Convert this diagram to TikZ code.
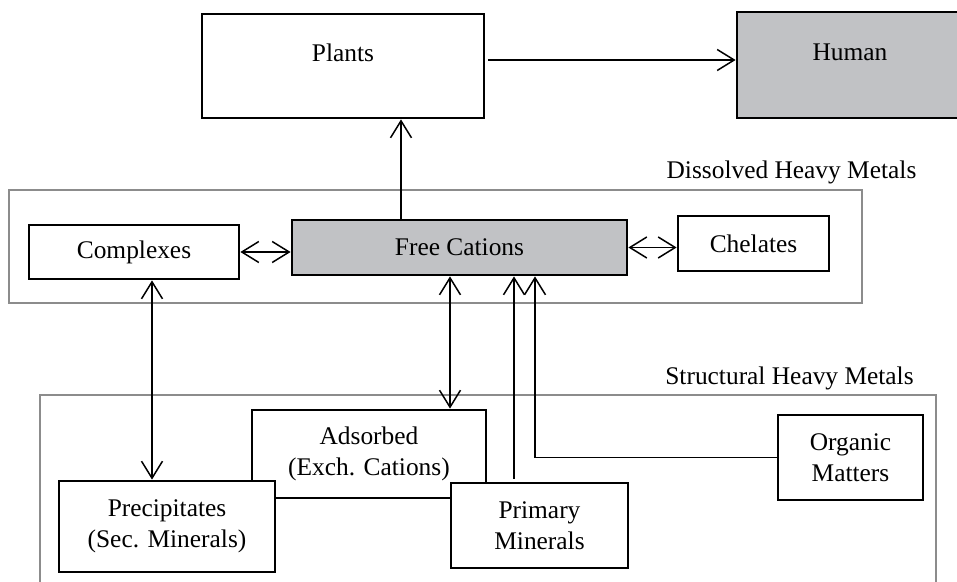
\documentclass[tikz,border=0pt]{standalone}
\usepackage{fontspec}
\setmainfont{Liberation Serif}
\usetikzlibrary{arrows.meta}
\definecolor{boxgray}{RGB}{193,194,197}
\definecolor{framegray}{RGB}{140,140,140}

\begin{document}
\begin{tikzpicture}[x=0.5pt,y=-0.5pt,>={Straight Barb[length=8.5pt,width=10.5pt]},
    box/.style={draw,line width=1.4pt,fill=white,align=center,inner sep=0pt,font=\fontsize{12.7}{15.5}\selectfont},
    group/.style={draw=framegray,line width=0.8pt},
    lbl/.style={inner sep=0pt,font=\fontsize{12.7}{15.5}\selectfont},
    link/.style={line width=0.75pt}]
    \clip (0,0) rectangle (957,582);

    % frames of the two groups
    \draw[group] (9,190) rectangle (862,303);
    \draw[group] (40,395) rectangle (936,620);
    \node[lbl] (dissolvedlbl) at (791.5,172) {Dissolved Heavy Metals};
    \node[lbl] (structurallbl) at (789.5,378) {Structural Heavy Metals};

    % boxes
    \node[box,text height=24pt,text depth=28pt,minimum width=141pt] (plants) at (343,66) {Plants};
    \node[box,fill=boxgray,text height=24.5pt,text depth=28.5pt,minimum width=113pt] (human) at (850,65) {Human};
    \node[box,minimum width=105pt,minimum height=27pt] (complexes) at (134,252) {Complexes};
    \node[box,fill=boxgray,minimum width=167.5pt,minimum height=27.5pt] (freecat) at (459.5,247.5) {Free Cations};
    \node[box,minimum width=75.5pt,minimum height=27.5pt] (chelates) at (753.5,243.5) {Chelates};
    \node[box,minimum width=117pt,minimum height=44pt] (adsorbed) at (369,454) {Adsorbed\\(Exch. Cations)};
    \node[box,minimum width=108pt,minimum height=45.5pt] (precip) at (167,526.5) {Precipitates\\(Sec. Minerals)};
    \node[box,minimum width=88.5pt,minimum height=42.5pt] (primary) at (539.5,525.5) {Primary\\Minerals};
    \node[box,minimum width=72.5pt,minimum height=42.5pt] (organic) at (850.5,457.5) {Organic\\Matters};

    % connectors
    \draw[link,->,shorten <=1.5pt] ([yshift=3pt]plants.east) -- ([yshift=3pt]plants.east -| human.west);
    \draw[link,->] ([xshift=-29.25pt]freecat.north) -- ([xshift=-29.25pt]freecat.north |- plants.south);
    \draw[link,<->] (complexes.east) -- (complexes.east -| freecat.west);
    \draw[link,<->] (freecat.east) -- (freecat.east -| chelates.west);
    \draw[link,<->] ([xshift=9pt]complexes.south) -- ([xshift=9pt]complexes.south |- precip.north);
    \draw[link,<->] ([xshift=-4.75pt]freecat.south) -- ([xshift=-4.75pt]freecat.south |- adsorbed.north);
    \draw[link,->,shorten <=1.5pt] ([xshift=-12.75pt]primary.north) -- ([xshift=-12.75pt]primary.north |- freecat.south);
    \draw[link,->] (organic.west) -| ([xshift=37.75pt]freecat.south);
\end{tikzpicture}
\end{document}
